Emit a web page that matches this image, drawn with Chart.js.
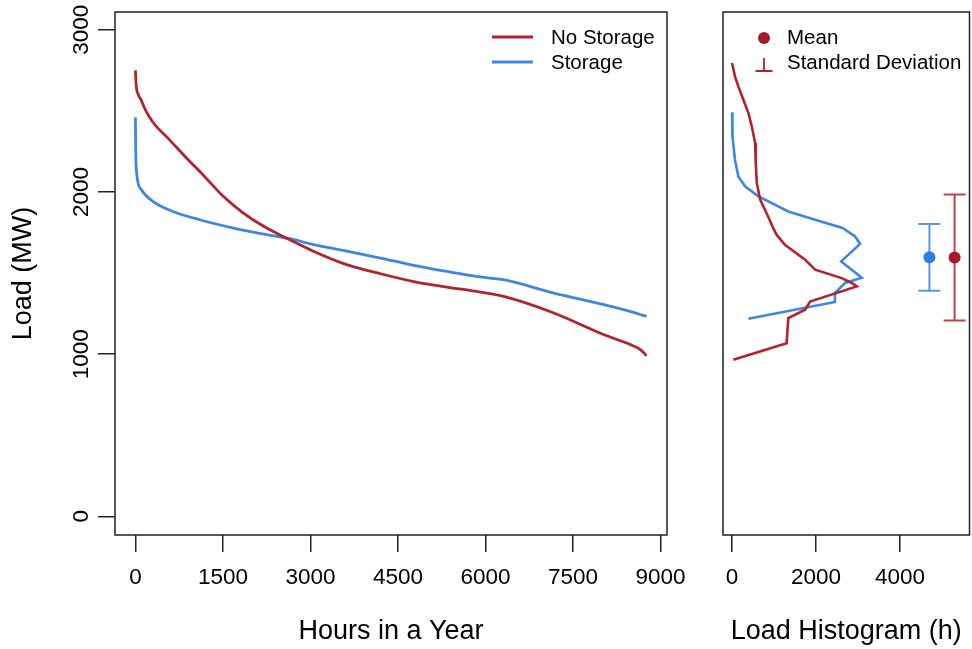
<!DOCTYPE html>
<html>
<head>
<meta charset="utf-8">
<script src="https://cdn.jsdelivr.net/npm/chart.js@4.4.1/dist/chart.umd.min.js"></script>
<style>
  html, body { margin: 0; padding: 0; background: #fff; }
  #wrap { position: relative; width: 972px; height: 649px; }
  .panel { position: absolute; top: 0; }
  #left { left: 0; }
  #right { left: 690px; }
</style>
</head>
<body>
<div id="wrap">
  <div class="panel" id="left"><canvas id="durationChart" width="690" height="649"></canvas></div>
  <div class="panel" id="right"><canvas id="histChart" width="282" height="649"></canvas></div>
</div>
<script>
// tick labels
const hourTicks = [0, 1500, 3000, 4500, 6000, 7500, 9000];
const loadTicks = [0, 1000, 2000, 3000];
const histTicks = [0, 2000, 4000];

const seriesNames = ['No Storage', 'Storage'];

// load duration curves (hour rank -> MW)
const noStorageHours = [0, 15, 45, 100, 180, 300, 590, 875, 1160, 1500, 1850, 2190, 2590, 3050, 3620, 4200, 4770, 5340, 5910, 6310, 7170, 8030, 8490, 8660, 8760];
const noStorageLoad  = [2750, 2650, 2605, 2565, 2500, 2430, 2320, 2210, 2105, 1975, 1870, 1790, 1715, 1635, 1552, 1496, 1448, 1414, 1383, 1356, 1254, 1120, 1058, 1027, 990];
const storageHours = [0, 5, 20, 100, 300, 640, 1100, 1680, 2250, 2650, 3050, 3620, 4200, 4770, 5340, 5910, 6310, 7170, 8030, 8430, 8760];
const storageLoad  = [2460, 2260, 2120, 2015, 1942, 1880, 1829, 1778, 1737, 1712, 1676, 1636, 1593, 1548, 1510, 1476, 1459, 1377, 1305, 1268, 1233];

// load histograms (MW bin -> hours)
const noStorageHistLoad  = [2796, 2713, 2651, 2569, 2487, 2405, 2302, 2179, 2056, 1953, 1860, 1778, 1737, 1675, 1583, 1521, 1469, 1439, 1418, 1325, 1274, 1223, 1068, 965];
const noStorageHistHours = [0, 70, 150, 270, 390, 470, 550, 565, 590, 670, 840, 980, 1060, 1260, 1740, 1980, 2610, 2850, 2970, 1860, 1740, 1340, 1300, 30];
const storageHistLoad  = [2491, 2343, 2199, 2096, 2035, 1973, 1880, 1829, 1778, 1726, 1680, 1572, 1472, 1439, 1377, 1322, 1218];
const storageHistHours = [0, 10, 70, 150, 310, 630, 1340, 1980, 2630, 2930, 3050, 2600, 3090, 2690, 2450, 2450, 390];

// mean and standard deviation of load, drawn at these histogram-axis positions
const meanLoad = [1596, 1597];
const sdLoad = [388, 206];
const statHours = [5300, 4700];

const RED = '#b3222e';
const BLUE = '#3d87e2';
const RED_DOT = '#a8182a';
const BLUE_DOT = '#2f7fe0';
const FONT = "'Liberation Sans', Arial, Helvetica, sans-serif";

Chart.defaults.font.family = FONT;
Chart.defaults.color = '#000';
Chart.defaults.animation = false;

function toXY(xs, ys) {
  return xs.map((x, i) => ({ x: x, y: ys[i] }));
}

function fixedTicks(list) {
  return function (scale) {
    scale.ticks = list.map(v => ({ value: v }));
  };
}

const frame = {
  id: 'frame',
  afterDraw(chart) {
    const { ctx, chartArea: a } = chart;
    ctx.save();
    ctx.strokeStyle = '#222';
    ctx.lineWidth = 1.5;
    ctx.strokeRect(a.left, a.top, a.right - a.left, a.bottom - a.top);
    ctx.restore();
  }
};

// R style vertical y tick labels
const yLabels = {
  id: 'yLabels',
  afterDraw(chart) {
    const { ctx, scales: { y }, chartArea: a } = chart;
    ctx.save();
    ctx.fillStyle = '#000';
    ctx.font = '22.5px ' + FONT;
    ctx.textAlign = 'center';
    ctx.textBaseline = 'alphabetic';
    loadTicks.forEach(v => {
      const py = y.getPixelForValue(v);
      ctx.save();
      ctx.translate(a.left - 27, py);
      ctx.rotate(-Math.PI / 2);
      ctx.fillText(String(v), 0, 0);
      ctx.restore();
    });
    ctx.restore();
  }
};

const lineLegend = {
  id: 'lineLegend',
  afterDraw(chart) {
    const ctx = chart.ctx;
    const colors = [RED, BLUE];
    ctx.save();
    ctx.font = '20.5px ' + FONT;
    ctx.textBaseline = 'middle';
    ctx.fillStyle = '#000';
    seriesNames.forEach((name, i) => {
      const yy = 37 + i * 25;
      ctx.strokeStyle = colors[i];
      ctx.lineWidth = 2.8;
      ctx.beginPath();
      ctx.moveTo(492, yy);
      ctx.lineTo(533, yy);
      ctx.stroke();
      ctx.fillText(name, 551, yy + 1);
    });
    ctx.restore();
  }
};

const errorBars = {
  id: 'errorBars',
  beforeDatasetsDraw(chart) {
    const { ctx, scales: { x, y } } = chart;
    const colors = ['rgba(179,34,46,0.85)', 'rgba(61,135,226,0.85)'];
    ctx.save();
    ctx.lineWidth = 2;
    statHours.forEach((h, i) => {
      const px = x.getPixelForValue(h);
      const top = y.getPixelForValue(meanLoad[i] + sdLoad[i]);
      const bot = y.getPixelForValue(meanLoad[i] - sdLoad[i]);
      ctx.strokeStyle = colors[i];
      ctx.beginPath();
      ctx.moveTo(px, top); ctx.lineTo(px, bot);
      ctx.moveTo(px - 11, top); ctx.lineTo(px + 11, top);
      ctx.moveTo(px - 11, bot); ctx.lineTo(px + 11, bot);
      ctx.stroke();
    });
    ctx.restore();
  },
  afterDraw(chart) {
    const ctx = chart.ctx;
    const cx = 764 - 690;
    ctx.save();
    ctx.font = '20.5px ' + FONT;
    ctx.textBaseline = 'middle';
    ctx.fillStyle = RED_DOT;
    ctx.beginPath();
    ctx.arc(cx, 38, 6, 0, Math.PI * 2);
    ctx.fill();
    ctx.strokeStyle = RED;
    ctx.lineWidth = 1.8;
    ctx.beginPath();
    ctx.moveTo(cx, 58); ctx.lineTo(cx, 71);
    ctx.moveTo(cx - 8.5, 71); ctx.lineTo(cx + 8.5, 71);
    ctx.stroke();
    ctx.fillStyle = '#000';
    ctx.fillText('Mean', 787 - 690, 38);
    ctx.fillText('Standard Deviation', 787 - 690, 63);
    ctx.restore();
  }
};

function xAxis(min, max, ticks, title) {
  return {
    type: 'linear',
    min: min,
    max: max,
    afterBuildTicks: fixedTicks(ticks),
    afterFit: s => { s.height = 114; s.paddingLeft = 0; s.paddingRight = 0; },
    grid: { drawOnChartArea: false, drawTicks: true, tickLength: 17, color: '#222', lineWidth: 1.5 },
    border: { display: false },
    ticks: { font: { size: 22.5 }, padding: 12, maxRotation: 0, autoSkip: false, color: '#000',
      callback: v => String(v) },
    title: { display: true, text: title, font: { size: 27 }, color: '#000', padding: { top: 0, bottom: 1 } }
  };
}

new Chart(document.getElementById('durationChart'), {
  type: 'scatter',
  data: {
    datasets: [
      { label: seriesNames[0], data: toXY(noStorageHours, noStorageLoad), showLine: true,
        borderColor: RED, borderWidth: 2.8, pointRadius: 0, cubicInterpolationMode: 'monotone' },
      { label: seriesNames[1], data: toXY(storageHours, storageLoad), showLine: true,
        borderColor: BLUE, borderWidth: 2.8, pointRadius: 0, cubicInterpolationMode: 'monotone' }
    ]
  },
  options: {
    responsive: false,
    layout: { autoPadding: false, padding: { left: 0, right: 23, top: 12, bottom: 0 } },
    plugins: { legend: { display: false }, tooltip: { enabled: false } },
    scales: {
      x: xAxis(-350, 9110, hourTicks, 'Hours in a Year'),
      y: {
        type: 'linear',
        min: -115,
        max: 3110,
        afterBuildTicks: fixedTicks(loadTicks),
        afterFit: s => { s.width = 115; s.paddingTop = 0; s.paddingBottom = 0; },
        grid: { drawOnChartArea: false, drawTicks: true, tickLength: 17, color: '#222', lineWidth: 1.5 },
        border: { display: false },
        ticks: { display: false },
        title: { display: true, text: 'Load (MW)', font: { size: 27 }, color: '#000', padding: { top: 7, bottom: 0 } }
      }
    }
  },
  plugins: [frame, yLabels, lineLegend]
});

new Chart(document.getElementById('histChart'), {
  type: 'scatter',
  data: {
    datasets: [
      { label: seriesNames[0], data: toXY(noStorageHistHours, noStorageHistLoad), showLine: true,
        borderColor: RED, borderWidth: 2.6, pointRadius: 0, tension: 0 },
      { label: seriesNames[1], data: toXY(storageHistHours, storageHistLoad), showLine: true,
        borderColor: BLUE, borderWidth: 2.6, pointRadius: 0, tension: 0 },
      { label: 'Mean', data: statHours.map((h, i) => ({ x: h, y: meanLoad[i] })),
        pointRadius: 6, pointBackgroundColor: [RED_DOT, BLUE_DOT], pointBorderWidth: 0 }
    ]
  },
  options: {
    responsive: false,
    layout: { autoPadding: false, padding: { left: 33, right: 2.5, top: 12, bottom: 0 } },
    plugins: { legend: { display: false }, tooltip: { enabled: false } },
    scales: {
      x: xAxis(-215, 5655, histTicks, 'Load Histogram (h)'),
      y: { type: 'linear', min: -115, max: 3110, display: false }
    }
  },
  plugins: [errorBars, frame]
});
</script>
</body>
</html>
